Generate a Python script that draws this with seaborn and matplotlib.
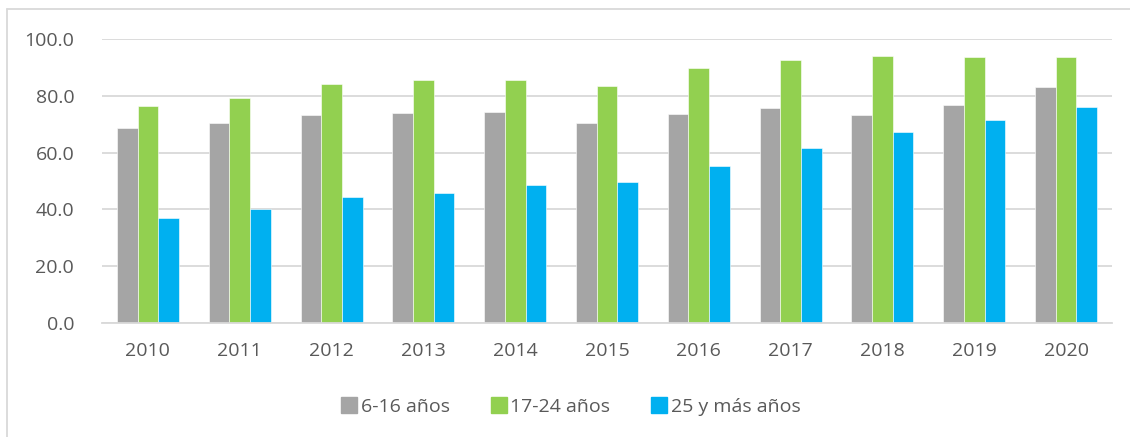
import pandas as pd
import seaborn as sns
import matplotlib.pyplot as plt
from matplotlib.lines import Line2D

# Datos
years = ['2010', '2011', '2012', '2013', '2014', '2015', '2016', '2017', '2018', '2019', '2020']
grupo_6_16 = [68.8, 70.3, 73.2, 74.1, 74.3, 70.5, 73.5, 75.6, 73.2, 76.8, 83.2]
grupo_17_24 = [76.5, 79.1, 84.2, 85.5, 85.4, 83.4, 89.8, 92.6, 94.0, 93.6, 93.6]
grupo_25_mas = [37.1, 40.0, 44.3, 45.9, 48.6, 49.6, 55.2, 61.5, 67.2, 71.5, 76.0]
series_names = ['6-16 años', '17-24 años', '25 y más años']
colors = ['#A5A5A5', '#92D050', '#00B0F0']

df = pd.DataFrame({
    'year': years * 3,
    'value': grupo_6_16 + grupo_17_24 + grupo_25_mas,
    'grupo': [s for s in series_names for _ in years],
})

sns.set_style('white')
plt.rcParams['font.family'] = ['Open Sans', 'DejaVu Sans']

fig = plt.figure(figsize=(11.3, 4.37), dpi=100)
ax = fig.add_axes([102 / 1130, 1 - 323 / 437, 1010 / 1130, 284 / 437])

sns.barplot(data=df, x='year', y='value', hue='grupo', palette=colors,
            saturation=1, width=0.675, gap=0, edgecolor='white', linewidth=0.4,
            legend=False, ax=ax)

ax.set_ylim(0, 100)
ax.set_xlim(-0.5, len(years) - 0.5)
ax.set_yticks([0, 20, 40, 60, 80, 100])
ax.set_yticklabels([f'{v:.1f}' for v in [0, 20, 40, 60, 80, 100]])
ax.set_xlabel('')
ax.set_ylabel('')
ax.yaxis.grid(True, color='#D9D9D9', linewidth=1.3)
ax.set_axisbelow(True)
for side in ['top', 'right', 'left']:
    ax.spines[side].set_visible(False)
ax.spines['bottom'].set_color('#D9D9D9')
ax.spines['bottom'].set_linewidth(1.3)
ax.tick_params(axis='both', length=0, colors='#595959', labelsize=14)
ax.tick_params(axis='y', pad=20)
ax.tick_params(axis='x', pad=14)

# Leyenda
handles = [Line2D([0], [0], marker='s', linestyle='', markersize=11,
                  markerfacecolor=c, markeredgecolor=c) for c in colors]
fig.legend(handles, series_names, loc='center', bbox_to_anchor=(570 / 1130, 1 - 407 / 437),
           ncol=3, frameon=False, fontsize=14, labelcolor='#595959',
           handletextpad=0.1, columnspacing=2.0, handlelength=1.0)

# Borde del área del gráfico
fig.add_artist(Line2D([7 / 1130, 1.0], [1 - 9 / 437, 1 - 9 / 437], color='#D9D9D9', linewidth=1.3))
fig.add_artist(Line2D([7 / 1130, 7 / 1130], [0, 1 - 9 / 437], color='#D9D9D9', linewidth=1.3))

fig.savefig('out.png', dpi=100)
